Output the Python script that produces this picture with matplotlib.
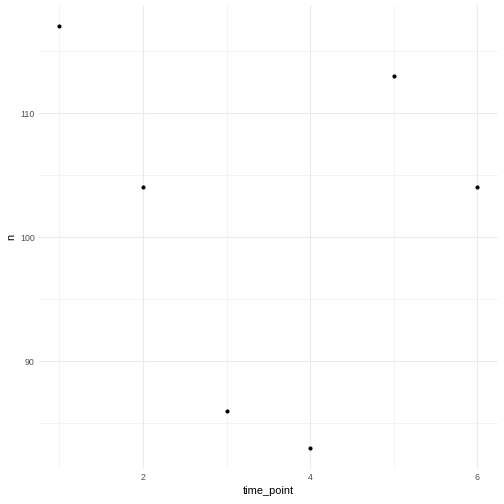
import matplotlib
matplotlib.use("Agg")
import matplotlib.pyplot as plt
from matplotlib.ticker import MultipleLocator

time_point = [1, 2, 3, 4, 5, 6]
n = [117, 104, 86, 83, 113, 104]
x_ticks = [2, 4, 6]
y_ticks = [90, 100, 110]

plt.rcParams['font.family'] = ['Liberation Sans', 'DejaVu Sans']
fig = plt.figure(figsize=(7, 7), dpi=72)
W = H = 504
ax = fig.add_axes([38.6 / W, 1 - 469 / H, (498 - 38.6) / W, (469 - 5.1) / H])

ax.scatter(time_point, n, s=17, color='black', zorder=3, linewidths=0)

xmin, xmax = min(time_point), max(time_point)
xr = xmax - xmin
ax.set_xlim(xmin - 0.05 * xr, xmax + 0.05 * xr)
ymin, ymax = min(n), max(n)
yr = ymax - ymin
ax.set_ylim(ymin - 0.05 * yr, ymax + 0.05 * yr)

ax.set_xticks(x_ticks)
ax.set_yticks(y_ticks)
ax.xaxis.set_minor_locator(MultipleLocator(1))
ax.yaxis.set_minor_locator(MultipleLocator(5))
ax.grid(which='major', color='#EBEBEB', linewidth=1.1)
ax.grid(which='minor', color='#EBEBEB', linewidth=0.55)
ax.set_axisbelow(True)
for s in ax.spines.values():
    s.set_visible(False)
ax.tick_params(which='both', length=0)
ax.tick_params(axis='both', labelsize=8.8, labelcolor='#4D4D4D', pad=4)
ax.set_xlabel('time_point', fontsize=11, labelpad=4)
ax.set_ylabel('n', fontsize=11, labelpad=4)

fig.savefig('out.png', dpi=72, facecolor='white')
